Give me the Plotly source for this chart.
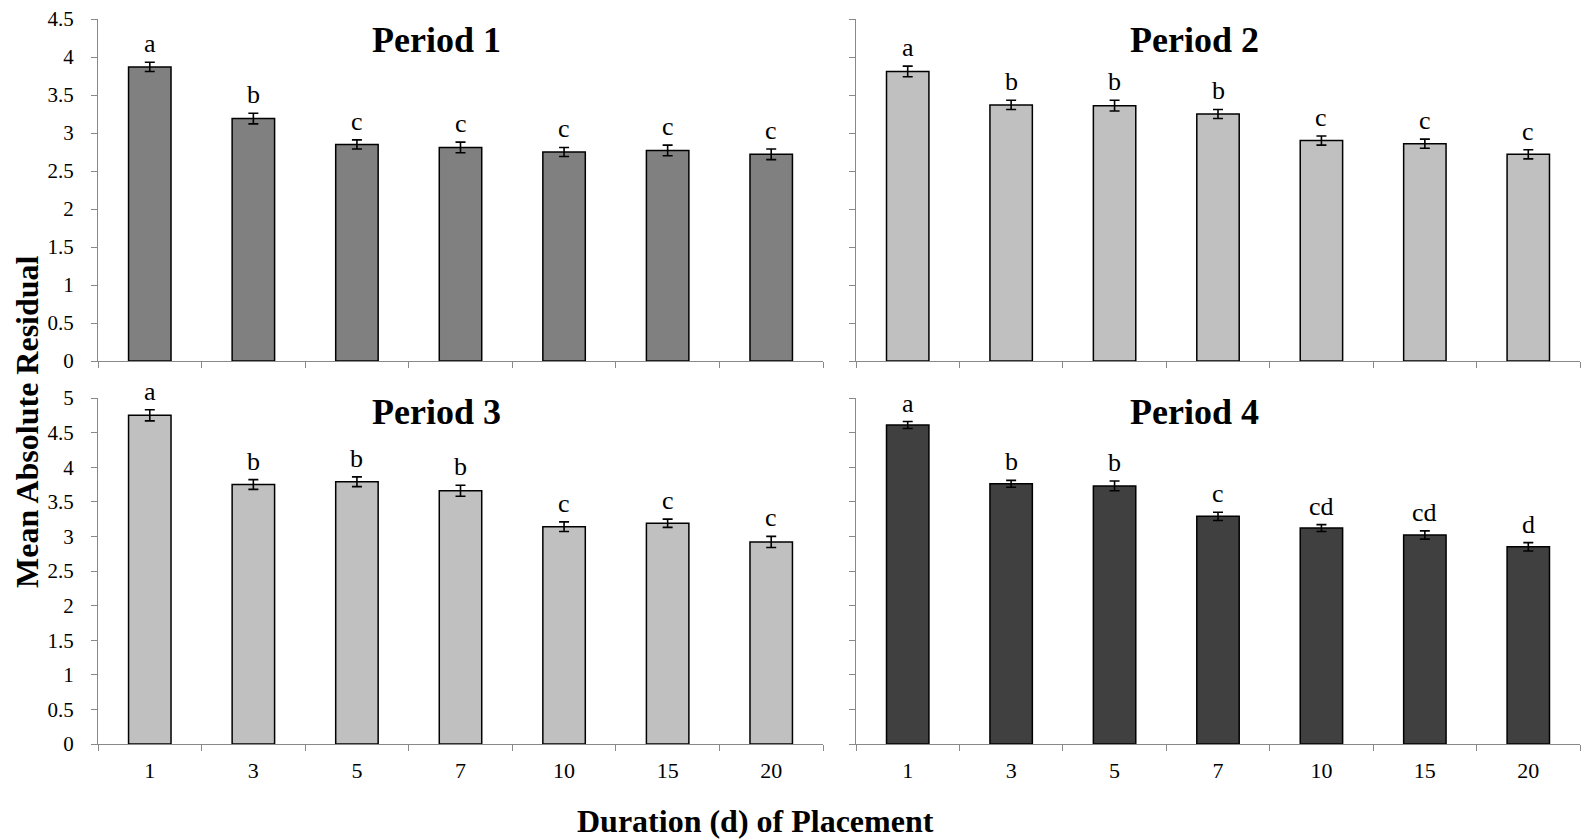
import plotly.graph_objects as go

durations = ["1", "3", "5", "7", "10", "15", "20"]

p1_mean = [3.87, 3.19, 2.85, 2.81, 2.75, 2.77, 2.72]
p1_err = [0.06, 0.07, 0.06, 0.07, 0.06, 0.07, 0.07]
p1_lbl = ["a", "b", "c", "c", "c", "c", "c"]

p2_mean = [3.81, 3.37, 3.36, 3.25, 2.90, 2.86, 2.72]
p2_err = [0.07, 0.06, 0.07, 0.06, 0.06, 0.06, 0.06]
p2_lbl = ["a", "b", "b", "b", "c", "c", "c"]

p3_mean = [4.75, 3.75, 3.79, 3.66, 3.14, 3.19, 2.92]
p3_err = [0.08, 0.07, 0.07, 0.08, 0.07, 0.06, 0.08]
p3_lbl = ["a", "b", "b", "b", "c", "c", "c"]

p4_mean = [4.61, 3.76, 3.73, 3.29, 3.12, 3.02, 2.85]
p4_err = [0.05, 0.05, 0.07, 0.06, 0.05, 0.06, 0.06]
p4_lbl = ["a", "b", "b", "c", "cd", "cd", "d"]

titles = ["Period 1", "Period 2", "Period 3", "Period 4"]
colors = ["#808080", "#c0c0c0", "#c0c0c0", "#404040"]

W, H = 1583, 840
SERIF = "Liberation Serif, Times New Roman, serif"
AX = "#898989"

def px_x(p):
    return p / W

def px_y(p):
    return 1 - p / H

panels = [
    (p1_mean, p1_err, p1_lbl, (98, 823), (19, 361), 4.5, "x", "y"),
    (p2_mean, p2_err, p2_lbl, (856, 1580), (19, 361), 4.5, "x2", "y2"),
    (p3_mean, p3_err, p3_lbl, (98, 823), (398, 744), 5.0, "x3", "y3"),
    (p4_mean, p4_err, p4_lbl, (856, 1580), (398, 744), 5.0, "x4", "y4"),
]

fig = go.Figure()
layout = dict(
    width=W, height=H, margin=dict(l=0, r=0, t=0, b=0, autoexpand=False),
    paper_bgcolor="white", plot_bgcolor="white", showlegend=False,
    font=dict(family=SERIF, color="black"),
)
annotations = []

for i, (mean, err, lbl, xr, yr, ymax, xa, ya) in enumerate(panels):
    fig.add_trace(go.Bar(
        x=durations, y=mean, xaxis=xa, yaxis=ya, width=0.41,
        marker=dict(color=colors[i], line=dict(color="black", width=1.5)),
        error_y=dict(type="data", array=err, color="black", thickness=1.6, width=5),
    ))
    for k, (m, e, t) in enumerate(zip(mean, err, lbl)):
        annotations.append(dict(
            x=k, y=m + e, xref=xa, yref=ya, text=t, showarrow=False,
            yanchor="bottom", yshift=2, font=dict(family=SERIF, size=26, color="black"),
        ))
    xk = "xaxis" if i == 0 else f"xaxis{i+1}"
    yk = "yaxis" if i == 0 else f"yaxis{i+1}"
    layout[xk] = dict(
        domain=[px_x(xr[0]), px_x(xr[1])], anchor=ya, type="category",
        range=[-0.5, 6.5], showline=True, linecolor=AX, linewidth=1.2,
        ticks="outside", tickson="boundaries", ticklen=6, tickcolor=AX, tickwidth=1.2,
        showgrid=False, showticklabels=(i >= 2), automargin=False,
        tickfont=dict(family=SERIF, size=22, color="black"), ticklabelstandoff=6,
    )
    layout[yk] = dict(
        domain=[px_y(yr[1]), px_y(yr[0])], anchor=xa, range=[0, ymax],
        dtick=0.5, showline=True, linecolor=AX, linewidth=1.2,
        ticks="outside", ticklen=6, tickcolor=AX, tickwidth=1.2,
        showgrid=False, zeroline=False, showticklabels=(i % 2 == 0), automargin=False,
        tickfont=dict(family=SERIF, size=21, color="black"), ticklabelstandoff=13,
    )
    cx = (xr[0] + xr[1]) / 2 - 24
    cy = 40 if i < 2 else 412
    annotations.append(dict(
        x=px_x(cx), y=px_y(cy), xref="paper", yref="paper", text=f"<b>{titles[i]}</b>",
        showarrow=False, xanchor="center", yanchor="middle",
        font=dict(family=SERIF, size=36, color="black"),
    ))

annotations.append(dict(
    x=px_x(27), y=px_y(422), xref="paper", yref="paper", text="<b>Mean Absolute Residual</b>",
    showarrow=False, textangle=-90, xanchor="center", yanchor="middle",
    font=dict(family=SERIF, size=32, color="black"),
))
annotations.append(dict(
    x=px_x(755), y=px_y(821), xref="paper", yref="paper", text="<b>Duration (d) of Placement</b>",
    showarrow=False, xanchor="center", yanchor="middle",
    font=dict(family=SERIF, size=32, color="black"),
))
layout["annotations"] = annotations
fig.update_layout(**layout)
fig.write_html("out.html")
